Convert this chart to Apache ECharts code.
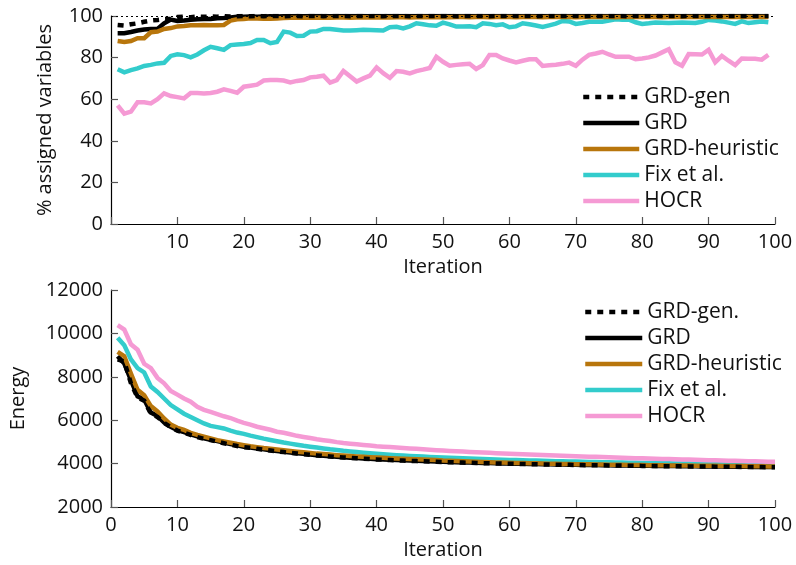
<!DOCTYPE html>
<html><head><meta charset="utf-8">
<script src="https://cdn.jsdelivr.net/npm/echarts@6/dist/echarts.min.js"></script>
<style>html,body{margin:0;padding:0;background:#fff}#c{width:796px;height:565px}</style>
</head><body><div id="c"></div>
<script>
// Top chart: % assigned variables, iterations 1..99
var assignGRDgen = [95.7,95.4,96.0,96.5,97.2,97.8,98.1,98.5,98.6,99.5,
99.6,99.4,99.7,99.6,99.8,99.7,99.9,99.8,99.9,100,
99.9,100,99.9,100,100,99.9,100,100,99.9,100,
100,99.9,100,100,100,99.9,100,100,100,100,
99.9,100,100,100,99.9,100,100,100,100,100,
100,99.9,100,100,100,100,99.9,100,100,100,
100,100,100,99.9,100,100,100,100,100,100,
99.9,100,100,100,100,100,100,99.9,100,100,
100,100,100,100,100,99.9,100,100,100,100,
100,100,100,100,100,100,100,100,100];
var assignGRD = [91.7,91.7,92.3,93.0,93.5,93.8,93.8,96.5,98.3,97.6,
97.8,98.2,98.4,98.5,98.6,98.9,99.0,99.3,99.6,99.7,
99.8,99.7,99.8,99.9,99.8,99.9,99.9,100,99.9,100,
100,100,99.9,100,100,100,100,100,99.9,100,
100,100,100,100,100,100,100,100,100,100,
100,100,100,100,100,100,100,100,100,100,
100,100,100,100,100,100,100,100,100,100,
100,100,100,100,100,100,100,100,100,100,
100,100,100,100,100,100,100,100,100,100,
100,100,100,100,100,100,100,100,100];
var assignHeur = [88.0,87.5,88.0,89.3,89.3,92.2,92.5,93.8,94.2,95.0,
95.2,95.5,95.6,95.7,95.6,95.5,95.7,97.8,98.4,98.6,
98.9,98.8,98.7,98.7,98.8,99.0,99.1,99.2,99.1,99.2,
99.2,99.3,99.2,99.3,99.3,99.2,99.3,99.4,99.3,99.3,
99.4,99.3,99.4,99.4,99.3,99.4,99.5,99.4,99.4,99.5,
99.4,99.5,99.5,99.4,99.5,99.5,99.4,99.5,99.5,99.5,
99.4,99.5,99.5,99.5,99.4,99.5,99.5,99.5,99.5,99.4,
99.5,99.5,99.5,99.5,99.5,99.4,99.5,99.5,99.5,99.5,
99.5,99.5,99.4,99.5,99.5,99.5,99.5,99.5,99.5,99.5,
99.5,99.5,99.5,99.5,99.5,99.5,99.5,99.5,99.5];
var assignFix = [74.4,72.9,74.0,74.8,76.0,76.5,77.2,77.5,80.8,81.6,
81.2,80.1,81.5,83.5,85.2,84.5,83.7,86.0,86.3,86.5,
87.0,88.5,88.5,86.9,87.5,92.5,92.0,90.4,90.5,92.5,
92.7,93.8,93.8,93.4,93.0,93.0,93.2,93.4,93.3,93.2,
93.0,94.6,94.8,94.0,95.0,96.5,96.0,95.5,95.3,96.8,
96.0,94.9,95.0,95.1,94.6,96.5,96.2,95.6,96.0,94.6,
95.0,96.5,96.0,95.4,94.7,95.5,96.3,97.6,97.4,96.2,
96.6,97.2,97.2,97.2,97.8,98.4,98.2,98.2,97.0,96.2,
96.5,96.9,96.8,96.6,96.8,96.9,96.8,96.6,97.2,98.1,
97.8,97.4,96.8,96.2,97.4,96.6,97.0,97.4,97.0];
var assignHOCR = [57.0,53.0,54.0,58.5,58.5,58.0,60.0,62.8,61.5,61.0,
60.4,63.0,63.0,62.8,63.0,63.6,64.7,64.0,63.1,66.0,
66.5,67.0,69.0,69.2,69.2,69.0,68.1,68.8,69.2,70.5,
70.8,71.3,68.0,69.2,73.6,71.0,68.5,70.0,71.3,75.3,
72.5,70.3,73.5,73.2,72.4,73.5,74.2,75.0,80.4,78.0,
76.1,76.5,76.8,77.0,74.5,76.4,81.3,81.3,79.6,78.6,
77.7,78.5,79.2,79.2,76.0,76.3,76.6,77.0,77.6,76.1,
79.0,81.3,82.0,82.8,81.5,80.4,80.4,80.4,79.2,79.6,
80.1,81.0,82.5,84.0,77.7,76.1,81.7,81.6,81.5,83.7,
77.7,80.8,78.5,76.4,79.6,79.5,79.4,79.0,81.3];

// Bottom chart: energy, iterations 1..100
var energyGRDgen = [8800,8700,7700,7050,6900,6300,6150,5880,5680,5520,
5420,5320,5220,5140,5080,5010,4940,4870,4810,4760,
4725,4685,4645,4605,4565,4530,4495,4465,4435,4405,
4378,4352,4328,4304,4284,4264,4244,4226,4210,4194,
4180,4166,4153,4140,4128,4116,4105,4094,4084,4074,
4064,4055,4046,4038,4030,4022,4014,4007,4000,3993,
3987,3981,3975,3969,3963,3957,3952,3947,3942,3937,
3932,3927,3923,3919,3915,3911,3907,3903,3899,3895,
3891,3887,3884,3881,3878,3875,3872,3869,3866,3863,
3860,3857,3854,3851,3848,3845,3842,3839,3836,3833];
var energyGRD = [8950,8620,7850,7100,6950,6350,6200,5900,5700,5540,
5450,5350,5250,5160,5100,5040,4970,4900,4840,4780,
4740,4700,4660,4620,4580,4545,4510,4480,4450,4420,
4390,4365,4340,4315,4295,4275,4255,4237,4220,4204,
4190,4176,4163,4150,4138,4126,4115,4104,4094,4084,
4074,4065,4056,4047,4039,4031,4023,4016,4009,4002,
3995,3989,3983,3977,3971,3965,3960,3955,3950,3945,
3940,3935,3930,3926,3922,3918,3914,3910,3906,3902,
3898,3894,3890,3887,3884,3881,3878,3875,3872,3869,
3866,3863,3860,3857,3854,3851,3848,3845,3842,3839];
var energyHeur = [9150,8950,8150,7400,7150,6650,6400,6080,5800,5650,
5550,5420,5320,5240,5160,5080,5020,4960,4900,4850,
4800,4760,4720,4690,4650,4615,4580,4550,4520,4490,
4460,4440,4415,4390,4370,4350,4330,4312,4295,4280,
4265,4250,4237,4224,4212,4200,4188,4176,4165,4140,
4128,4116,4105,4094,4084,4074,4065,4056,4048,4040,
4032,4025,4018,4011,4004,3998,3992,3986,3980,3975,
3970,3965,3960,3955,3951,3947,3943,3939,3935,3931,
3927,3923,3920,3917,3914,3911,3908,3905,3902,3899,
3896,3893,3890,3887,3884,3881,3878,3875,3872,3869];
var energyFix = [9800,9450,8800,8400,8200,7550,7300,7000,6700,6500,
6300,6150,6000,5850,5740,5680,5620,5520,5430,5370,
5290,5220,5150,5090,5030,4970,4920,4870,4820,4780,
4740,4700,4660,4630,4590,4560,4530,4500,4475,4450,
4430,4410,4390,4370,4355,4340,4325,4310,4295,4280,
4268,4256,4244,4232,4220,4210,4200,4190,4180,4170,
4162,4154,4146,4138,4130,4122,4114,4106,4099,4092,
4085,4078,4072,4066,4060,4054,4048,4043,4038,4033,
4028,4023,4018,4014,4010,4006,4002,3998,3994,3990,
3987,3984,3981,3978,3975,3972,3969,3966,3963,3960];
var energyHOCR = [10380,10180,9500,9250,8600,8400,7950,7700,7350,7180,
7000,6850,6620,6480,6380,6280,6180,6100,5980,5880,
5800,5700,5630,5560,5470,5420,5350,5280,5230,5180,
5120,5080,5040,4990,4950,4920,4890,4860,4830,4800,
4780,4760,4740,4720,4700,4680,4660,4640,4620,4600,
4585,4570,4555,4540,4525,4510,4495,4480,4468,4455,
4443,4431,4419,4407,4395,4384,4373,4362,4351,4340,
4330,4320,4310,4300,4290,4280,4270,4261,4252,4243,
4234,4225,4216,4208,4200,4192,4184,4176,4168,4160,
4152,4144,4136,4128,4120,4112,4104,4096,4088,4080];

var seriesNames = ['GRD-gen','GRD','GRD-heuristic','Fix et al.','HOCR'];
var seriesNamesBottom = ['GRD-gen.','GRD ','GRD-heuristic ','Fix et al. ','HOCR '];
var colors = ['#000000','#000000','#B8760C','#33CCCC','#F59AD4'];

function pairs(arr){ return arr.map(function(v,i){ return [i+1, v]; }); }

var FONT = 'Open Sans';
var topData = [assignGRDgen, assignGRD, assignHeur, assignFix, assignHOCR];
var botData = [energyGRDgen, energyGRD, energyHeur, energyFix, energyHOCR];
var LW = 4.5;

function makeSeries(dataSets, names, axisIdx){
  return dataSets.map(function(d, k){
    var s = {
      name: names[k], type: 'line', xAxisIndex: axisIdx, yAxisIndex: axisIdx,
      data: pairs(d), symbol: 'none', showSymbol: false, animation: false,
      lineStyle: {color: colors[k], width: LW, type: k === 0 ? [6,6] : 'solid', cap: 'butt', join: 'miter'},
      itemStyle: {color: colors[k]},
      emphasis: {disabled: true},
      z: k === 0 ? 6 : (k === 2 ? 4 : (k === 1 ? 3 : 2))
    };
    if (k === 0 && axisIdx === 0) {
      s.markLine = {silent: true, symbol: 'none', label: {show: false},
        lineStyle: {color: '#000', width: 1, type: [2,3]}, data: [{yAxis: 100}]};
    }
    return s;
  });
}

var axisCommon = {
  axisLine: {lineStyle: {color: '#000', width: 1.2}},
  axisTick: {inside: true, length: 7, lineStyle: {color: '#555', width: 1.2}},
  splitLine: {show: false},
  axisLabel: {color: '#111', fontSize: 20, fontFamily: FONT},
  nameTextStyle: {color: '#111', fontSize: 20, fontFamily: FONT}
};
function ax(extra){ var o = JSON.parse(JSON.stringify(axisCommon)); for (var k in extra){ if (typeof extra[k]==='object' && o[k]) { for (var j in extra[k]) o[k][j]=extra[k][j]; } else o[k]=extra[k]; } return o; }
function plain(v){ return String(v); }

var legendCommon = {orient: 'vertical', itemHeight: 14, itemGap: 4,
  itemStyle: {opacity: 0, borderWidth: 0},
  lineStyle: {width: LW},
  textStyle: {fontSize: 21, fontFamily: FONT, color: '#111', lineHeight: 22}};
function lg(extra){ var o = JSON.parse(JSON.stringify(legendCommon)); for (var k in extra) o[k] = extra[k]; return o; }

var chart = echarts.init(document.getElementById('c'), null, {renderer: 'canvas'});
chart.setOption({
  backgroundColor: '#fff',
  animation: false,
  grid: [
    {left: 111, top: 16, width: 664, height: 208},
    {left: 111, top: 290, width: 664, height: 217}
  ],
  xAxis: [
    ax({type: 'value', gridIndex: 0, min: 0, max: 100, interval: 10, name: 'Iteration', nameLocation: 'middle', nameGap: 33,
        axisLabel: {margin: 8, formatter: function(v){ return v === 0 ? '' : String(v); }}}),
    ax({type: 'value', gridIndex: 1, min: 0, max: 100, interval: 10, name: 'Iteration', nameLocation: 'middle', nameGap: 33,
        axisLabel: {margin: 8, formatter: plain}})
  ],
  yAxis: [
    ax({type: 'value', gridIndex: 0, min: 0, max: 100, interval: 20, name: '% assigned variables', nameLocation: 'middle', nameGap: 56,
        axisLabel: {margin: 8, formatter: plain}}),
    ax({type: 'value', gridIndex: 1, min: 2000, max: 12000, interval: 2000, name: 'Energy', nameLocation: 'middle', nameGap: 83,
        axisLabel: {margin: 8, formatter: plain}})
  ],
  legend: [
    lg({left: 576, top: 81, itemWidth: 56, data: seriesNames}),
    lg({left: 578, top: 296, itemWidth: 57, data: seriesNamesBottom})
  ],
  series: makeSeries(topData, seriesNames, 0).concat(makeSeries(botData, seriesNamesBottom, 1))
});
</script></body></html>
